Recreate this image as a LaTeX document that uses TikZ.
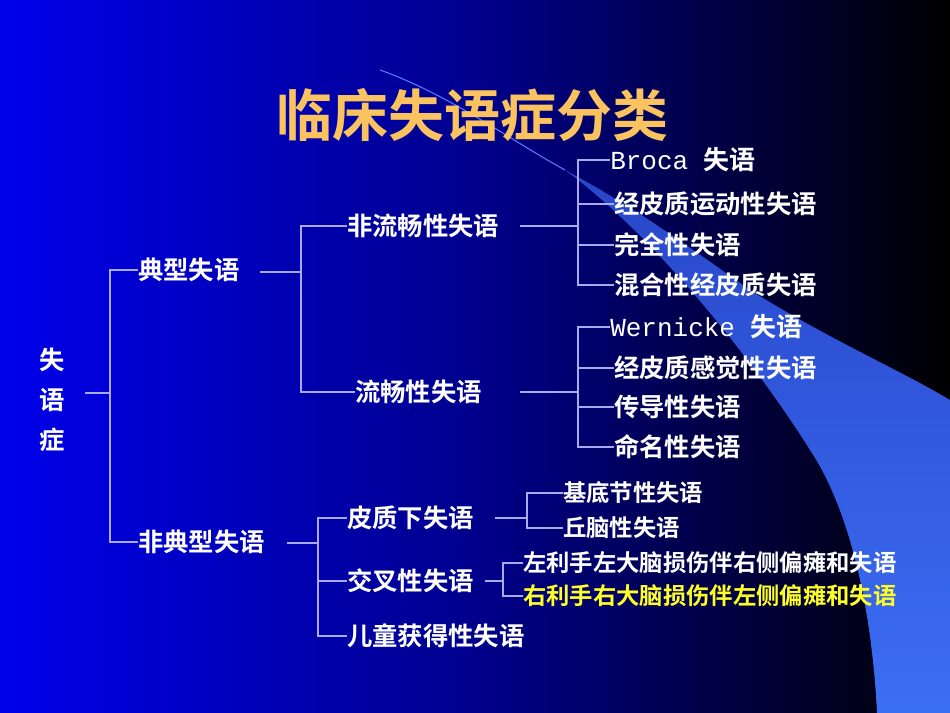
\documentclass[tikz,border=0pt]{standalone}
\usepackage{fontspec}
\newfontfamily\cjk{Noto Sans CJK SC Bold}
\newfontfamily\cjkb{Noto Sans CJK SC Bold}
\newfontfamily\mono{Liberation Mono}
\definecolor{conn}{RGB}{170,170,240}
\definecolor{titleor}{RGB}{250,195,95}
\begin{document}
\begin{tikzpicture}[x=0.75pt,y=-0.75pt,
  t1/.style={text=white,inner sep=0pt,anchor=west,font=\cjk\fontsize{19}{22}\selectfont},
  t2/.style={text=white,inner sep=0pt,anchor=west,font=\cjk\fontsize{17.5}{20}\selectfont},
  ln/.style={draw=conn,line width=1.1pt}]
\shade[left color={rgb,255:red,0;green,0;blue,235},right color=black,middle color={rgb,255:red,0;green,0;blue,140}] (0,0) rectangle (950,713);
\useasboundingbox (0,0) rectangle (950,713);
% swoosh
\shade[top color={rgb,255:red,40;green,70;blue,200},bottom color={rgb,255:red,60;green,110;blue,245}]
  (565,170) .. controls (640,210) and (700,255) .. (750,290)
  .. controls (830,340) and (900,370) .. (950,400) -- (950,713) -- (877,713)
  .. controls (872,610) and (850,510) .. (810,450)
  .. controls (760,370) and (660,240) .. (565,170) -- cycle;
\draw[draw={rgb,255:red,90;green,120;blue,255},line width=0.8pt] (380,70) .. controls (450,95) and (510,140) .. (565,170);
% title
\node[inner sep=0pt,text=titleor,font=\cjkb\fontsize{42}{46}\selectfont] (title) at (472,115) {临床失语症分类};
% root
\node[t1,anchor=center,align=center,font=\cjk\fontsize{19}{30}\selectfont] (root) at (52,400) {失\\语\\症};
\node[t1] (typ) at (138,270) {典型失语};
\node[t1] (atyp) at (138,542) {非典型失语};
\node[t1] (nf) at (347,226) {非流畅性失语};
\node[t1] (fl) at (355,392) {流畅性失语};
\node[t1,font=\mono\fontsize{19.5}{22}\selectfont] (broca) at (610,160) {Broca {\cjk 失语}};
\node[t1] (a2) at (614,204) {经皮质运动性失语};
\node[t1] (a3) at (614,245) {完全性失语};
\node[t1] (a4) at (614,285) {混合性经皮质失语};
\node[t1,font=\mono\fontsize{19.5}{22}\selectfont] (wer) at (610,327) {Wernicke {\cjk 失语}};
\node[t1] (b2) at (614,368) {经皮质感觉性失语};
\node[t1] (b3) at (614,407) {传导性失语};
\node[t1] (b4) at (614,447) {命名性失语};
\node[t1] (sub) at (347,518) {皮质下失语};
\node[t1] (cross) at (347,581) {交叉性失语};
\node[t1] (child) at (347,636) {儿童获得性失语};
\node[t2] (bg) at (563,493) {基底节性失语};
\node[t2] (th) at (563,528) {丘脑性失语};
\node[t2] (c1) at (523,563) {左利手左大脑损伤伴右侧偏瘫和失语};
\node[t2,text={rgb,255:red,255;green,255;blue,40}] (c2) at (523,596) {右利手右大脑损伤伴左侧偏瘫和失语};
% connectors
\coordinate (j0) at (110,393);
\draw[ln] (85,393) -- (j0);
\draw[ln] (typ.west) -- (typ.west -| j0) -- (atyp.west -| j0) -- (atyp.west);
\coordinate (j1) at (301,272);
\draw[ln] (260,272) -- (j1);
\draw[ln] (nf.west) -- (nf.west -| j1) -- (fl.west -| j1) -- (fl.west);
\coordinate (j2) at (578,226);
\draw[ln] (520,226) -- (j2);
\draw[ln] (broca.west) -- (broca.west -| j2) -- (a4.west -| j2) -- (a4.west);
\draw[ln] (a2.west -| j2) -- (a2.west);
\draw[ln] (a3.west -| j2) -- (a3.west);
\coordinate (j3) at (578,392);
\draw[ln] (520,392) -- (j3);
\draw[ln] (wer.west) -- (wer.west -| j3) -- (b4.west -| j3) -- (b4.west);
\draw[ln] (b2.west -| j3) -- (b2.west);
\draw[ln] (b3.west -| j3) -- (b3.west);
\coordinate (j4) at (318,543);
\draw[ln] (287,543) -- (j4);
\draw[ln] (sub.west) -- (sub.west -| j4) -- (child.west -| j4) -- (child.west);
\draw[ln] (cross.west -| j4) -- (cross.west);
\coordinate (j5) at (527,518);
\draw[ln] (495,518) -- (j5);
\draw[ln] (bg.west) -- (bg.west -| j5) -- (th.west -| j5) -- (th.west);
\coordinate (j6) at (503,581);
\draw[ln] (485,581) -- (j6);
\draw[ln] (c1.west) -- (c1.west -| j6) -- (c2.west -| j6) -- (c2.west);
\end{tikzpicture}
\end{document}
